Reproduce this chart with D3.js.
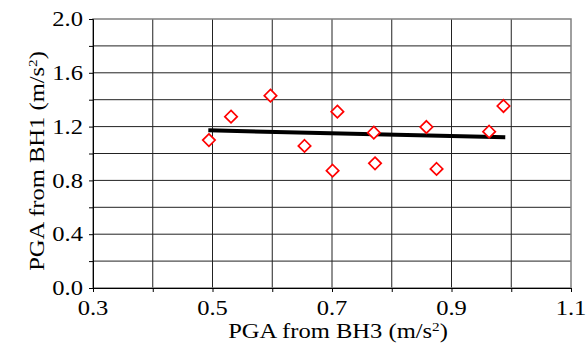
<!DOCTYPE html>
<html>
<head>
<meta charset="utf-8">
<script src="https://cdn.jsdelivr.net/npm/d3@7"></script>
<style>
  body { margin: 0; background: #fff; }
  text { font-family: "Liberation Serif", "Times New Roman", serif; }
</style>
</head>
<body>
<div id="chart"></div>
<script>
// PGA from BH3 vs PGA from BH1 (m/s^2)
const bh3 = [0.494, 0.531, 0.597, 0.654, 0.709, 0.701, 0.770, 0.772, 0.858, 0.875, 0.963, 0.987];
const bh1 = [1.100, 1.274, 1.430, 1.056, 1.311, 0.872, 1.155, 0.927, 1.197, 0.885, 1.162, 1.353];
const trendX = [0.493, 0.990];
const trendY = [1.172, 1.120];
const xTicks = [0.3, 0.5, 0.7, 0.9, 1.1];
const yTicks = [0.0, 0.4, 0.8, 1.2, 1.6, 2.0];

const width = 587, height = 343;
const margin = { top: 19, right: 16, bottom: 55, left: 93 };
const fontSize = 21;
const stretch = 1.17; // reference glyphs are wider than Times

const svg = d3.select('#chart')
  .append('svg')
  .attr('width', width)
  .attr('height', height);

const x = d3.scaleLinear()
  .domain([0.3, 1.1])
  .range([margin.left, width - margin.right]);

const y = d3.scaleLinear()
  .domain([0, 2.0])
  .range([height - margin.bottom, margin.top]);

// grid
const xGrid = d3.range(0.4, 1.05, 0.1);
const yGrid = d3.range(0.2, 1.95, 0.2);

svg.append('g')
  .selectAll('line')
  .data(xGrid)
  .enter()
  .append('line')
  .attr('x1', d => x(d))
  .attr('x2', d => x(d))
  .attr('y1', y(0))
  .attr('y2', y(2))
  .attr('stroke', '#222')
  .attr('stroke-width', 1);

svg.append('g')
  .selectAll('line')
  .data(yGrid)
  .enter()
  .append('line')
  .attr('x1', x(0.3))
  .attr('x2', x(1.1))
  .attr('y1', d => y(d))
  .attr('y2', d => y(d))
  .attr('stroke', '#222')
  .attr('stroke-width', 1);

// plot border
svg.append('rect')
  .attr('x', x(0.3))
  .attr('y', y(2))
  .attr('width', x(1.1) - x(0.3))
  .attr('height', y(0) - y(2))
  .attr('fill', 'none')
  .attr('stroke', '#808080')
  .attr('stroke-width', 1.5);

// axes
const xAxis = svg.append('g')
  .attr('transform', `translate(0, ${y(0)})`)
  .call(d3.axisBottom(x).tickValues(d3.range(0.3, 1.15, 0.1)).tickSize(4).tickFormat(''));
xAxis.select('.domain').attr('stroke', '#000');
xAxis.selectAll('.tick line').attr('stroke', '#000');

svg.append('g')
  .selectAll('text')
  .data(xTicks)
  .enter()
  .append('text')
  .attr('transform', d => `translate(${x(d)}, ${y(0) + 27}) scale(${stretch}, 1)`)
  .attr('text-anchor', 'middle')
  .attr('font-size', fontSize)
  .text(d => d.toFixed(1));

const yAxis = svg.append('g')
  .attr('transform', `translate(${x(0.3)}, 0)`)
  .call(d3.axisLeft(y).tickValues(d3.range(0, 2.05, 0.2)).tickSize(4).tickFormat(''));
yAxis.select('.domain').attr('stroke', '#000');
yAxis.selectAll('.tick line').attr('stroke', '#000');

svg.append('g')
  .selectAll('text')
  .data(yTicks)
  .enter()
  .append('text')
  .attr('transform', d => `translate(${x(0.3) - 10}, ${y(d)}) scale(${stretch}, 1)`)
  .attr('dy', '0.34em')
  .attr('text-anchor', 'end')
  .attr('font-size', fontSize)
  .text(d => d.toFixed(1));

// trend line
svg.append('line')
  .attr('x1', x(trendX[0]))
  .attr('y1', y(trendY[0]))
  .attr('x2', x(trendX[1]))
  .attr('y2', y(trendY[1]))
  .attr('stroke', '#000')
  .attr('stroke-width', 4);

// diamond markers
const pts = d3.zip(bh3, bh1);
svg.append('g')
  .selectAll('path')
  .data(pts)
  .enter()
  .append('path')
  .attr('transform', d => `translate(${x(d[0])}, ${y(d[1])})`)
  .attr('d', 'M0,-6.2L6.2,0L0,6.2L-6.2,0Z')
  .attr('fill', '#fff')
  .attr('stroke', '#ff0000')
  .attr('stroke-width', 1.7);

// axis titles
function title(sel, label) {
  sel.attr('text-anchor', 'middle').attr('font-size', fontSize);
  sel.append('tspan').text(label);
  sel.append('tspan').attr('font-size', 13).attr('dy', -7).text('2');
  sel.append('tspan').attr('dy', 7).text(')');
}

const xt = svg.append('text')
  .attr('transform', `translate(338, 338) scale(${stretch}, 1)`);
title(xt, 'PGA from BH3 (m/s');

const yt = svg.append('text')
  .attr('transform', `translate(44, 161) rotate(-90) scale(${stretch}, 1)`);
title(yt, 'PGA from BH1 (m/s');
</script>
</body>
</html>
